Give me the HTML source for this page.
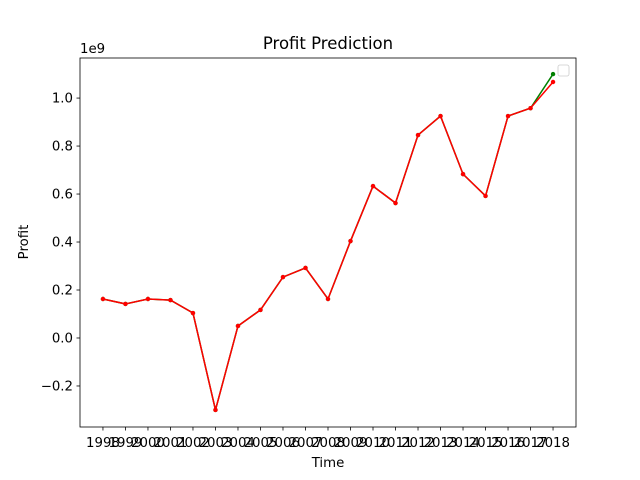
<!DOCTYPE html>
<html><head><meta charset="utf-8"><style>
body{margin:0;background:#fff;}
svg{display:block;font-family:"DejaVu Sans","Liberation Sans",sans-serif;}
</style></head><body>
<svg id="c" width="640" height="480"></svg>
<script>
const years=[1998,1999,2000,2001,2002,2003,2004,2005,2006,2007,2008,2009,2010,2011,2012,2013,2014,2015,2016,2017,2018];
const actual=[0.1625,0.142,0.1625,0.158,0.104,-0.30,0.05,0.117,0.254,0.292,0.1625,0.404,0.633,0.5625,0.846,0.925,0.683,0.592,0.925,0.958,1.10];
const predicted=[0.1625,0.142,0.1625,0.158,0.104,-0.30,0.05,0.117,0.254,0.292,0.1625,0.404,0.633,0.5625,0.846,0.925,0.683,0.592,0.925,0.958,1.067];
const yTicks=[-0.2,0.0,0.2,0.4,0.6,0.8,1.0];
const yTickLabels=["\u22120.2","0.0","0.2","0.4","0.6","0.8","1.0"];
const L=80,R=576,T=58,B=427;
const xMin=1996.98,xMax=2019.02,yMin=-0.371,yMax=1.167;
const X=v=>L+(v-xMin)/(xMax-xMin)*(R-L);
const Y=v=>B-(v-yMin)/(yMax-yMin)*(B-T);
const svg=document.getElementById('c');
const NS='http://www.w3.org/2000/svg';
function mk(tag,attrs,parent){const e=document.createElementNS(NS,tag);for(const k in attrs)e.setAttribute(k,attrs[k]);(parent||svg).appendChild(e);return e;}
function txt(s,attrs){const e=mk('text',attrs);e.textContent=s;return e;}
yTicks.forEach((v,i)=>{
  const t=mk('line',{x1:L-3.5,x2:L,y1:Y(v),y2:Y(v),stroke:'#000','stroke-width':0.8});
  
  
  const l=txt(yTickLabels[i],{x:L-7,y:Y(v)+4.5,'text-anchor':'end','font-size':13.3});
  
  
});
years.forEach(v=>{
  const t=mk('line',{x1:X(v),x2:X(v),y1:B,y2:B+3.5,stroke:'#000','stroke-width':0.8});
  
  
  const l=txt(String(v),{x:X(v),y:B+20,'text-anchor':'middle','font-size':13.3});
  
  
});
function series(vals,color,name){
  const p=mk('polyline',{points:vals.map((v,i)=>X(years[i])+','+Y(v)).join(' '),fill:'none',stroke:color,'stroke-width':1.5});
  
  
  vals.forEach((v,i)=>{
    const c=mk('circle',{cx:X(years[i]),cy:Y(v),r:2.2,fill:color});
    
    
  });
}
series(actual,'green','actual');
series(predicted,'red','predicted');
const fr=mk('rect',{x:L,y:T,width:R-L,height:B-T,fill:'none',stroke:'#000','stroke-width':0.8});


const lg=mk('rect',{x:558,y:65,width:11,height:11,fill:'#fff',stroke:'#ccc','stroke-width':0.8,rx:2});


const ti=txt('Profit Prediction',{x:328,y:49,'text-anchor':'middle','font-size':16.5});


const xt=txt('Time',{x:328,y:467,'text-anchor':'middle','font-size':13.3});


const yt=txt('Profit',{x:0,y:0,'text-anchor':'middle','font-size':13.3,transform:'translate(28,242) rotate(-90)'});


const ex=txt('1e9',{x:80,y:53,'font-size':13.3});


</script>
</body></html>
